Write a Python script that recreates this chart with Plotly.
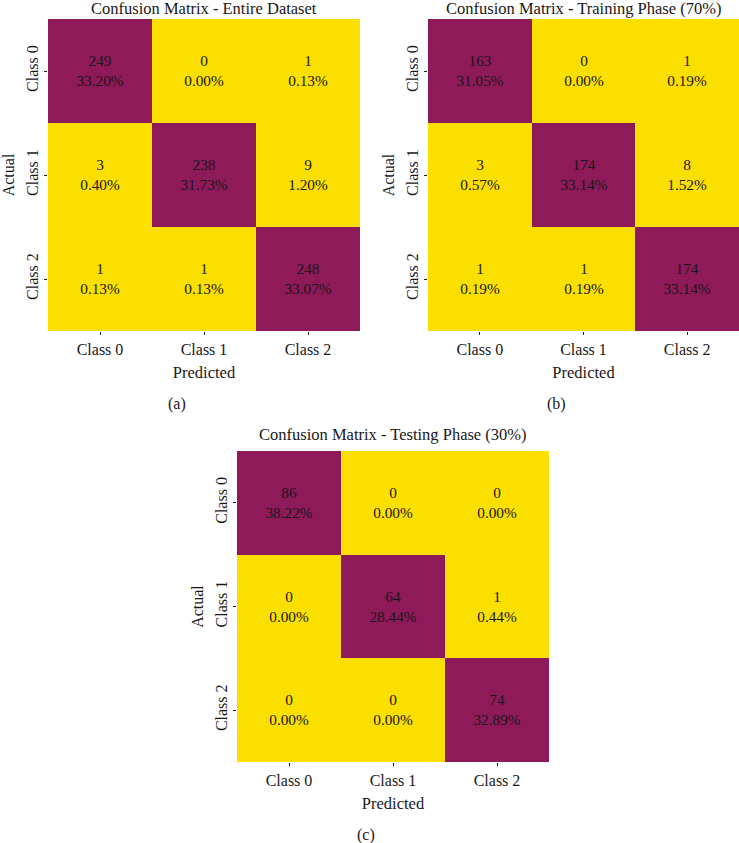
import plotly.graph_objects as go

classes = ["Class 0", "Class 1", "Class 2"]

counts_all = [[249, 0, 1], [3, 238, 9], [1, 1, 248]]
pct_all = [["33.20%", "0.00%", "0.13%"], ["0.40%", "31.73%", "1.20%"], ["0.13%", "0.13%", "33.07%"]]

counts_train = [[163, 0, 1], [3, 174, 8], [1, 1, 174]]
pct_train = [["31.05%", "0.00%", "0.19%"], ["0.57%", "33.14%", "1.52%"], ["0.19%", "0.19%", "33.14%"]]

counts_test = [[86, 0, 0], [0, 64, 1], [0, 0, 74]]
pct_test = [["38.22%", "0.00%", "0.00%"], ["0.00%", "28.44%", "0.44%"], ["0.00%", "0.00%", "32.89%"]]

W, H = 739, 843
FONT = "Liberation Serif"
INK = "#1a1718"
YELLOW = "#fbdf00"
PURPLE = "#8e1a5a"

# axis suffix, counts, pct, title, caption, left, right, top, bottom, title y (px)
panels = [
    ("", counts_all, pct_all, "Confusion Matrix - Entire Dataset", "(a)", 48, 360, 19, 331, 9),
    ("2", counts_train, pct_train, "Confusion Matrix - Training Phase (70%)", "(b)", 428, 739, 19, 331, 9),
    ("3", counts_test, pct_test, "Confusion Matrix - Testing Phase (30%)", "(c)", 237, 549, 451, 762, 434),
]

fig = go.Figure()
notes = []
layout = {}
for sfx, counts, pct, title, caption, left, right, top, bottom, title_y in panels:
    labels = [[f"{c}<br>{p}" for c, p in zip(rc, rp)] for rc, rp in zip(counts, pct)]
    fig.add_trace(go.Heatmap(
        z=counts, x=classes, y=classes, text=labels, texttemplate="%{text}",
        textfont=dict(family=FONT, size=15.3, color=INK),
        colorscale=[[0, YELLOW], [0.5, YELLOW], [0.5, PURPLE], [1, PURPLE]],
        zmin=0, zmax=max(max(r) for r in counts), showscale=False,
        xaxis="x" + sfx, yaxis="y" + sfx,
    ))
    layout["xaxis" + sfx] = dict(
        domain=[left / W, right / W], anchor="y" + sfx, ticks="outside", ticklen=3,
        tickcolor=INK, tickfont=dict(family=FONT, size=16, color=INK), ticklabelstandoff=1,
        title=dict(text="Predicted", font=dict(family=FONT, size=16.5, color=INK), standoff=9),
        showgrid=False, zeroline=False, showline=False, fixedrange=True,
    )
    layout["yaxis" + sfx] = dict(
        domain=[1 - bottom / H, 1 - top / H], anchor="x" + sfx, autorange="reversed",
        ticks="outside", ticklen=3, tickcolor=INK, tickangle=-90,
        tickfont=dict(family=FONT, size=16, color=INK),
        title=dict(text="Actual", font=dict(family=FONT, size=16, color=INK), standoff=4),
        showgrid=False, zeroline=False, showline=False, fixedrange=True,
    )
    notes.append(dict(
        text=title, xref="paper", yref="paper", x=(left + right) / 2 / W, y=1 - title_y / H,
        showarrow=False, xanchor="center", yanchor="middle",
        font=dict(family=FONT, size=16.5, color=INK),
    ))
    notes.append(dict(
        text=caption, xref="paper", yref="paper", x=((left + right) / 2 - 27) / W,
        y=1 - (bottom + 73) / H, showarrow=False, xanchor="center", yanchor="middle",
        font=dict(family=FONT, size=16, color=INK),
    ))

fig.update_layout(
    width=W, height=H, margin=dict(l=0, r=0, t=0, b=0),
    paper_bgcolor="white", plot_bgcolor="white", annotations=notes, **layout,
)
fig.write_html(
    "out.html",
    config={"displayModeBar": False},
    post_script="document.body.style.margin = '0';",
)
